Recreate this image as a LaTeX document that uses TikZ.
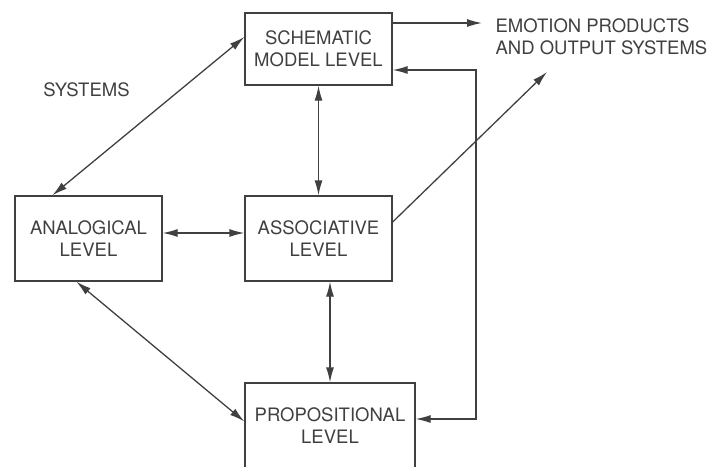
\documentclass[tikz,border=0pt]{standalone}
\usepackage{fontspec}
\setmainfont{TeX Gyre Heros}
\usetikzlibrary{arrows.meta}
\tikzset{>={Latex[length=15pt, width=8pt]}}
\tikzset{level/.style={draw, align=center, minimum width=147pt, inner sep=0pt}}
\tikzset{lab/.style={align=left, inner sep=0pt}}

\begin{document}
\begin{tikzpicture}[x=1pt, y=-1pt, line width=1.3pt, color=black!75, font=\fontsize{18.5}{22}\selectfont]
    \useasboundingbox(0, 0)rectangle(712, 466);
    \clip(0, 0)rectangle(712, 466);
    \node[level, minimum height=72pt](schem) at (318.5, 49){SCHEMATIC\\MODEL LEVEL};
    \node[level, minimum height=85pt](analog) at (88.5, 238.5){ANALOGICAL\\LEVEL};
    \node[level, minimum height=85pt](assoc) at (318.5, 238.5){ASSOCIATIVE\\LEVEL};
    \node[level, minimum width=170pt, minimum height=85pt](prop) at (330, 425.5){PROPOSITIONAL\\LEVEL};
    \node[lab, anchor=north west](emotion) at (495, 18){EMOTION PRODUCTS\\AND OUTPUT SYSTEMS};
    \node[lab](systems) at (86.5, 89.5){SYSTEMS};
    \coordinate(emoIn) at (482, 23);
    \coordinate(emoOut) at (547, 72);
    \coordinate(loop) at (476, 70);
    \draw[<->](schem.south)--(assoc.north);
    \draw[<->](assoc.south -| prop.north)--(prop.north);
    \draw[<->]([yshift=5.5pt]analog.east)--([yshift=5.5pt]assoc.west);
    \draw[<->]([xshift=38pt]analog.north west)--([yshift=12pt]schem.west);
    \draw[<->]([xshift=62pt]analog.south west)--([yshift=4pt]prop.west);
    \draw[->]([yshift=26pt]schem.east)--(emoIn);
    \draw[->]([yshift=16.5pt]assoc.east)--(emoOut);
    \draw[<->]([yshift=6.5pt]prop.east)-|(loop)--([yshift=-21pt]schem.east);
\end{tikzpicture}
\end{document}
